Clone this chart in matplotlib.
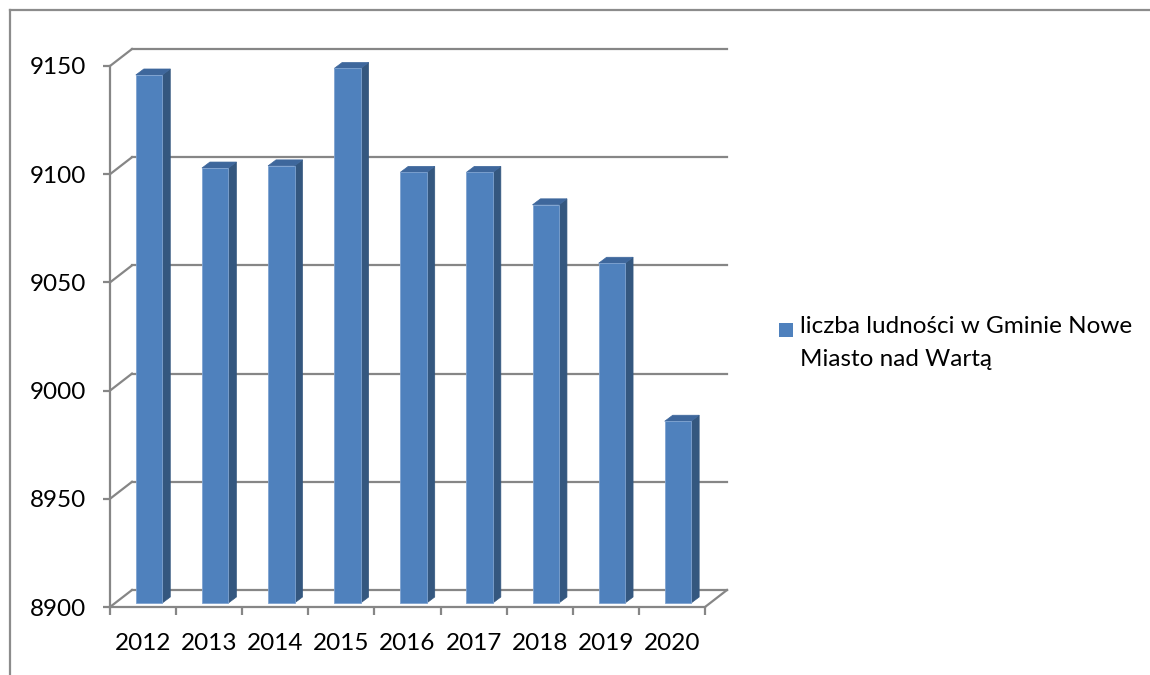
import numpy as np
import matplotlib
matplotlib.use("Agg")
import matplotlib.pyplot as plt
from matplotlib.patches import Polygon, Rectangle
from matplotlib.lines import Line2D

#  Data 
years = ["2012", "2013", "2014", "2015", "2016", "2017", "2018", "2019", "2020"]
population = [9144, 9101, 9102, 9147, 9099, 9099, 9084, 9057, 8984]
y_ticks = [8900, 8950, 9000, 9050, 9100, 9150]
legend_label = "liczba ludności w Gminie Nowe\nMiasto nad Wartą"

#  Style 
FRONT = "#4F81BD"
SIDE = "#34577F"
TOP = "#3E679C"
GRID = "#868686"
FS = 17.5
plt.rcParams["font.family"] = ["Lato", "DejaVu Sans"]

W, H = 1150, 675
fig = plt.figure(figsize=(W / 100, H / 100), dpi=100)

# front plane of the 3d box, in pixels
left_px, right_px, top_px, bot_px = 110, 705, 66, 607
ax = fig.add_axes([left_px / W, (H - bot_px) / H,
                   (right_px - left_px) / W, (bot_px - top_px) / H])
ymin, ymax = y_ticks[0], y_ticks[-1]
ax.set_xlim(-0.5, len(years) - 0.5)
ax.set_ylim(ymin, ymax)

# pixel -> data units
sx = (len(years)) / (right_px - left_px)
sy = (ymax - ymin) / (bot_px - top_px)

# depth offsets (px)
back_dx, back_dy = 22, 17
bar_dx, bar_dy = 6, 4
depth_dx, depth_dy = 8, 6

x = np.arange(len(years))
x0, x1 = -0.5, len(years) - 0.5
bdx, bdy = back_dx * sx, back_dy * sy

# back wall gridlines + left wall diagonals
for t in y_ticks:
    ax.add_line(Line2D([x0 + bdx, x1 + bdx], [t + bdy, t + bdy],
                       color=GRID, lw=1.6, clip_on=False, zorder=1))
    ax.add_line(Line2D([x0, x0 + bdx], [t, t + bdy],
                       color=GRID, lw=1.6, clip_on=False, zorder=1))
# floor right edge
ax.add_line(Line2D([x1, x1 + bdx], [ymin, ymin + bdy],
                   color=GRID, lw=1.6, clip_on=False, zorder=1))

# bars: front face
w = 0.4
base = ymin + bar_dy * sy
heights = np.array(population) - ymin
ax.bar(x + bar_dx * sx, heights, bottom=base, width=w, color=FRONT,
       edgecolor="#7FA3D1", linewidth=0.6, zorder=3)

# bars: side and top faces
ddx, ddy = depth_dx * sx, depth_dy * sy
for xi, v in zip(x, population):
    fx0 = xi - w / 2 + bar_dx * sx
    fx1 = xi + w / 2 + bar_dx * sx
    fy1 = v + bar_dy * sy
    side = Polygon([(fx1, base), (fx1, fy1), (fx1 + ddx, fy1 + ddy), (fx1 + ddx, base + ddy)],
                   closed=True, facecolor=SIDE, edgecolor=SIDE, lw=0.5, zorder=2, clip_on=False)
    top = Polygon([(fx0, fy1), (fx1, fy1), (fx1 + ddx, fy1 + ddy), (fx0 + ddx, fy1 + ddy)],
                  closed=True, facecolor=TOP, edgecolor=TOP, lw=0.5, zorder=2, clip_on=False)
    ax.add_patch(side)
    ax.add_patch(top)

# axes
for s in ["top", "right"]:
    ax.spines[s].set_visible(False)
for s in ["left", "bottom"]:
    ax.spines[s].set_color(GRID)
    ax.spines[s].set_linewidth(1.6)
    ax.spines[s].set_zorder(4)

ax.set_yticks(y_ticks)
ax.set_yticklabels([str(t) for t in y_ticks])
ax.set_xticks(np.arange(len(years) + 1) - 0.5, minor=False)
ax.set_xticklabels([])
ax.set_xticks(x, minor=True)
ax.set_xticklabels(years, minor=True)
ax.tick_params(axis="y", length=5, width=1.6, color=GRID, pad=12, labelsize=FS)
ax.tick_params(axis="x", which="major", length=6, width=1.6, color=GRID)
ax.tick_params(axis="x", which="minor", length=0, pad=19, labelsize=FS)

# legend
fig.patches.append(Rectangle((779 / W, (H - 337) / H), 14 / W, 14 / H,
                             transform=fig.transFigure, facecolor=FRONT, edgecolor="none"))
fig.text(800 / W, (H - 316) / H, legend_label, ha="left", va="top",
         fontsize=FS, linespacing=1.7)

# chart frame
fig.add_artist(Line2D([10 / W, 10 / W], [0, (H - 10) / H], color="#8C8C8C", lw=1.6))
fig.add_artist(Line2D([10 / W, 1], [(H - 10) / H, (H - 10) / H], color="#8C8C8C", lw=1.6))

fig.savefig("out.png", dpi=100)
